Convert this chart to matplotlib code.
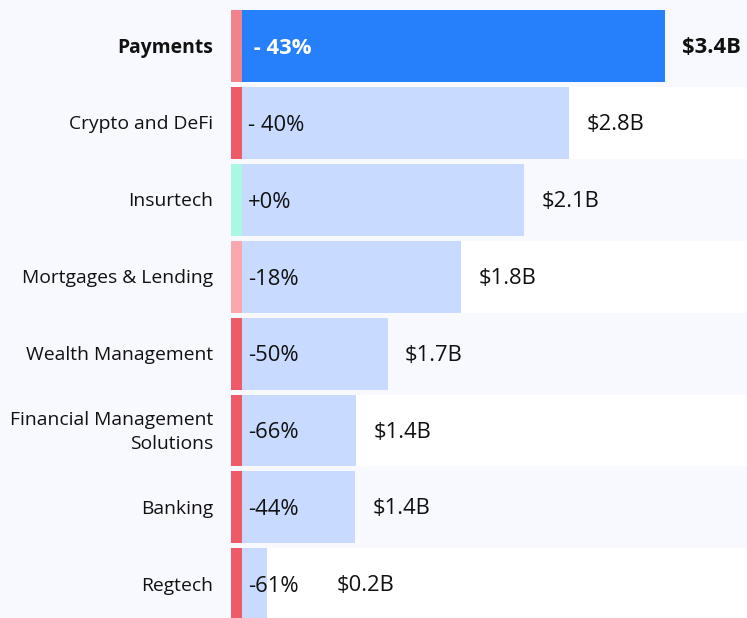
import matplotlib.pyplot as plt
from matplotlib.patches import Rectangle

plt.rcParams['font.family'] = ['Open Sans', 'DejaVu Sans']

categories = ['Payments', 'Crypto and DeFi', 'Insurtech', 'Mortgages & Lending',
              'Wealth Management', 'Financial Management\nSolutions', 'Banking', 'Regtech']
bar_lengths = [3.4, 2.63, 2.27, 1.76, 1.17, 0.92, 0.91, 0.2]
funding_labels = ['$3.4B', '$2.8B', '$2.1B', '$1.8B', '$1.7B', '$1.4B', '$1.4B', '$0.2B']
change_labels = [' - 43%', '- 40%', '+0%', '-18%', '-50%', '-66%', '-44%', '-61%']
strip_colors = ['#f0838b', '#ee5a67', '#aaf7e4', '#f9a8ad', '#ee5a67', '#ee5a67', '#ee5a67', '#ee5a67']
highlight = 0

light = '#f8f9fe'
fig = plt.figure(figsize=(7.47, 6.18), dpi=100, facecolor=light)
ax = fig.add_axes([0, 0, 1, 1])
ax.set_facecolor(light)

px = 124.4  # pixels per unit on x
x_left = -242 / px
x_right = 505 / px
strip_w = 11 / px
bar_h = 0.936

ax.set_xlim(x_left, x_right)
ax.set_ylim(7.438, -0.598)
ax.axis('off')

n = len(categories)
for i in range(n):
    # white band on alternate rows
    if i % 2 == 1:
        ax.add_patch(Rectangle((-strip_w, i - bar_h / 2), x_right + strip_w, bar_h,
                               facecolor='white', edgecolor='none', zorder=0))

bar_colors = ['#2780fb' if i == highlight else '#c8daff' for i in range(n)]
ax.barh(range(n), bar_lengths, height=bar_h, color=bar_colors, zorder=2)
ax.barh(range(n), [strip_w] * n, left=-strip_w, height=bar_h, color=strip_colors, zorder=3)

for i in range(n):
    bold = i == highlight
    ax.text(-29 / px, i + 0.02, categories[i], ha='right', va='center', fontsize=13.9,
            fontweight='bold' if bold else 'normal', color='#111111',
            linespacing=1.37)
    ax.text(6 / px, i + 0.03, change_labels[i], ha='left', va='center', fontsize=15.8,
            fontweight='bold' if bold else 'normal',
            color='white' if bold else '#111111', zorder=4)
    lx = max(bar_lengths[i], 0.62) + 0.14
    ax.text(lx, i + 0.02, funding_labels[i], ha='left', va='center', fontsize=15.8,
            fontweight='bold' if bold else 'normal', color='#111111', zorder=4)

plt.savefig('out.png', dpi=100, facecolor=light)
